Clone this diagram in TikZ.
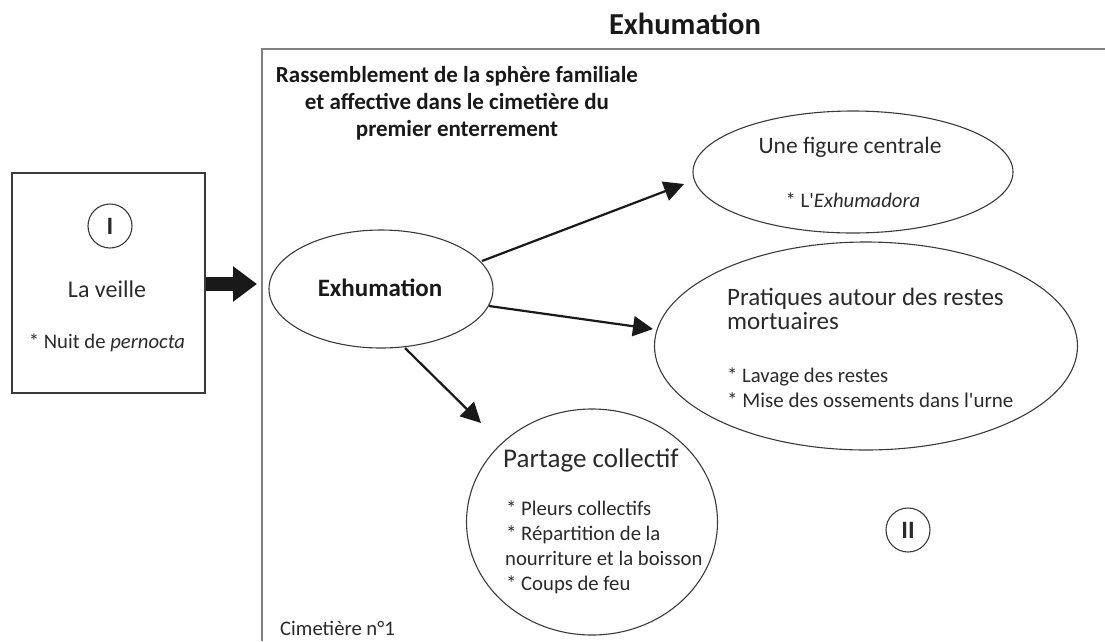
\documentclass[tikz,border=0pt]{standalone}
\usepackage{fontspec}
\setmainfont{Carlito}
\usetikzlibrary{arrows.meta,shapes.geometric}
\definecolor{txt}{HTML}{2A2A2A}
\definecolor{edge}{HTML}{3A3A3A}
\definecolor{framec}{HTML}{808080}
\tikzset{
  oval/.style={draw=edge, line width=1.1pt, shape=ellipse, inner sep=0pt},
  bigtxt/.style={text=txt, inner sep=0pt, font=\fontsize{25}{30}\selectfont},
  smalltxt/.style={text=txt, inner sep=0pt, font=\fontsize{20.7}{25}\selectfont},
  boldtxt/.style={text=black!90, inner sep=0pt, font=\bfseries\fontsize{23}{28}\selectfont},
  numcircle/.style={draw=edge, line width=1.1pt, circle, minimum size=44pt, inner sep=0pt, text=txt, font=\bfseries\fontsize{25}{28}\selectfont},
  thinarrow/.style={draw=black!90, line width=2.2pt, -{Triangle[length=20pt,width=20pt]}},
}
\begin{document}
\begin{tikzpicture}[x=1pt,y=-1pt]
\useasboundingbox (0,0) rectangle (1105,641);
% frame
\coordinate (fbl) at (262,641);
\coordinate (ftl) at (262,49);
\coordinate (ftr) at (1105,49);
\draw[framec, line width=1.6pt] (fbl) -- (ftl) -- (ftr);
\node[boldtxt, font=\bfseries\fontsize{30.5}{34}\selectfont, anchor=base] (title) at (685,34) {Exhumation};
% header
\node[boldtxt, anchor=base] (h1) at (457,82) {Rassemblement de la sphère familiale};
\node[boldtxt, anchor=base] (h2) at (457,109) {et affective dans le cimetière du};
\node[boldtxt, anchor=base] (h3) at (457,136) {premier enterrement};
% left box
\node[draw=edge, line width=1.2pt, minimum width=193pt, minimum height=220pt, inner sep=0pt] (veille) at (108.5,283) {};
\node[numcircle] (c1) at (110,226) {I};
\node[bigtxt, font=\fontsize{24}{28}\selectfont, anchor=base] (lv) at (107,297) {La veille};
\node[smalltxt, anchor=base] (nuit) at (107,348) {* Nuit de \textit{pernocta}};
\coordinate (bigtip) at (257,284);
\draw[black!90, line width=14pt, -{Triangle[length=24pt,width=34pt]}] (veille.east |- bigtip) -- (bigtip);
% ellipses
\node[oval, minimum width=224pt, minimum height=118pt] (exh) at (381,289) {};
\node[boldtxt, font=\bfseries\fontsize{25}{28}\selectfont, anchor=base] (exht) at (380,296) {Exhumation};
\node[oval, minimum width=320pt, minimum height=122pt] (fig) at (853,172) {};
\node[bigtxt, font=\fontsize{23.5}{28}\selectfont, anchor=base] (figt) at (850,153) {Une figure centrale};
\node[smalltxt, anchor=base] (figs) at (853,207) {* L\textquotesingle\textit{Exhumadora}};
\node[oval, minimum width=423pt, minimum height=208pt] (prat) at (866,346) {};
\node[bigtxt, anchor=base west] (p1) at (727,305) {Pratiques autour des restes};
\node[bigtxt, anchor=base west] (p2) at (727,329) {mortuaires};
\node[smalltxt, anchor=base west] (p3) at (727,382) {* Lavage des restes};
\node[smalltxt, font=\fontsize{21}{25}\selectfont, anchor=base west] (p4) at (727,407) {* Mise des ossements dans l\textquotesingle urne};
\node[oval, minimum width=251pt, minimum height=226pt] (part) at (592,522) {};
\node[bigtxt, font=\fontsize{27}{30}\selectfont, anchor=base west] (q1) at (503,467) {Partage collectif};
\node[smalltxt, anchor=base west] (q2) at (506,515) {* Pleurs collectifs};
\node[smalltxt, anchor=base west] (q3) at (506,540) {* Répartition de la};
\node[smalltxt, anchor=base west] (q4) at (505,565) {nourriture et la boisson};
\node[smalltxt, anchor=base west] (q5) at (506,590) {* Coups de feu};
\node[numcircle] (c2) at (908,530) {II};
\node[smalltxt, anchor=base west] (cim) at (280,635) {Cimetière n°1};
% arrows
\coordinate (s1) at (482,261);
\coordinate (t1) at (684,184);
\coordinate (s2) at (489,306);
\coordinate (t2) at (653,329);
\coordinate (s3) at (405,348);
\coordinate (t3) at (481,423);
\draw[thinarrow] (s1) -- (t1);
\draw[thinarrow] (s2) -- (t2);
\draw[thinarrow] (s3) -- (t3);
\end{tikzpicture}
\end{document}
